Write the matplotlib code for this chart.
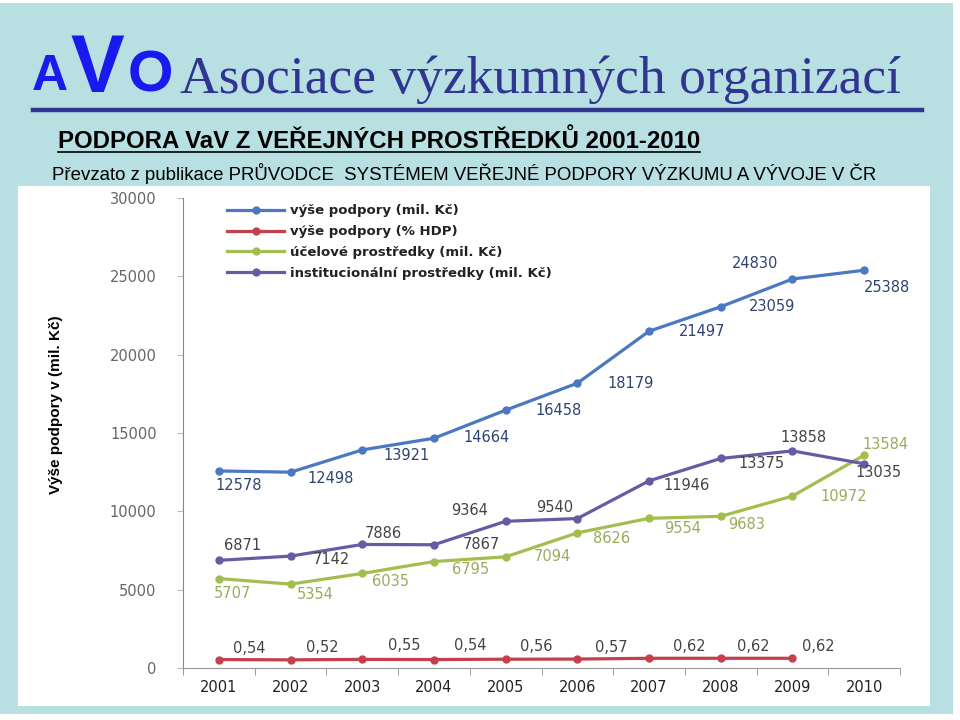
import matplotlib.pyplot as plt
from matplotlib.patches import Rectangle
from matplotlib.lines import Line2D

years = [2001, 2002, 2003, 2004, 2005, 2006, 2007, 2008, 2009, 2010]
celkem = [12578, 12498, 13921, 14664, 16458, 18179, 21497, 23059, 24830, 25388]
hdp = [0.54, 0.52, 0.55, 0.54, 0.56, 0.57, 0.62, 0.62, 0.62]
ucelove = [5707, 5354, 6035, 6795, 7094, 8626, 9554, 9683, 10972, 13584]
instituc = [6871, 7142, 7886, 7867, 9364, 9540, 11946, 13375, 13858, 13035]
y_ticks = [0, 5000, 10000, 15000, 20000, 25000, 30000]

names = ['výše podpory (mil. Kč)', 'výše podpory (% HDP)',
         'účelové prostředky (mil. Kč)', 'institucionální prostředky (mil. Kč)']
colors = ['#4a78c2', '#c4404c', '#a3bd4f', '#6a5aa6']
label_colors = ['#2f4470', '#444444', '#9aab5a', '#444444']

# label offsets in pixels (dx, dy) relative to the point
off_celkem = [(20, -15), (40, -6), (44, -6), (53, 1), (53, 0), (53, 0), (53, 0), (51, 0), (-37, 15), (23, -17)]
off_inst = [(24, 15), (41, -3), (21, 11), (47, 0), (-36, 11), (-23, 11), (38, -5), (41, -5), (11, 13), (14, -9)]
off_ucel = [(14, -15), (25, -10), (28, -8), (37, -8), (47, 0), (34, -6), (34, -10), (26, -8), (51, 0), (21, 11)]
off_hdp = [(30, 11), (32, 12), (42, 14), (36, 14), (31, 13), (34, 12), (40, 12), (33, 12), (26, 12)]

fig = plt.figure(figsize=(9.6, 7.2), dpi=100)
fig.patch.set_facecolor('white')


def px(x, y):
    return x / 960, 1 - y / 720


# slide background
fig.patches.append(Rectangle(px(0, 714), 953 / 960, 711 / 720, transform=fig.transFigure,
                             facecolor='#b8dfe2', edgecolor='none', zorder=-2))
# white chart panel
fig.patches.append(Rectangle(px(18, 706), 912 / 960, 520 / 720, transform=fig.transFigure,
                             facecolor='white', edgecolor='none', zorder=-1))

# logo
logo = '#1a1aee'
fig.text(*px(50, 90), 'A', fontsize=36, fontweight='bold', family='Liberation Sans',
         color=logo, ha='center', va='baseline')
fig.text(*px(97, 92), 'V', fontsize=58, fontweight='bold', family='Liberation Sans',
         color=logo, ha='center', va='baseline')
fig.text(*px(150, 92), 'O', fontsize=42, fontweight='bold', family='Liberation Sans',
         color=logo, ha='center', va='baseline')

fig.text(*px(180, 93), 'Asociace výzkumných organizací', fontsize=38.5,
         family='Liberation Serif', color='#2f3590', ha='left', va='baseline')
fig.lines.append(Line2D([33 / 960, 922 / 960], [1 - 110 / 720] * 2, transform=fig.transFigure,
                        color='#2f3590', lw=3.2))

fig.text(*px(58, 148), 'PODPORA VaV Z VEŘEJNÝCH PROSTŘEDKŮ 2001-2010', fontsize=17.3,
         fontweight='bold', family='Liberation Sans', color='black', ha='left', va='baseline')
fig.lines.append(Line2D([58 / 960, 700 / 960], [1 - 152 / 720] * 2, transform=fig.transFigure,
                        color='black', lw=1.2))
fig.text(*px(52, 180), 'Převzato z publikace PRŮVODCE  SYSTÉMEM VEŘEJNÉ PODPORY VÝZKUMU A VÝVOJE V ČR',
         fontsize=13.45, family='Liberation Sans', color='black', ha='left', va='baseline')

fig.text(*px(56, 405), 'Výše podpory v (mil. Kč)', rotation=90, fontsize=11, fontweight='bold',
         family='Liberation Sans', color='black', ha='center', va='center')

ax = fig.add_axes([183 / 960, 52 / 720, 717 / 960, 470 / 720])
ax.set_facecolor('none')

hdp_scaled = [v * 1000 for v in hdp]
series = [(years, celkem), (years[:len(hdp)], hdp_scaled), (years, ucelove), (years, instituc)]
for (xs, ys), c, n in zip(series, colors, names):
    ax.plot(xs, ys, color=c, lw=2.3, marker='o', markersize=5, label=n, zorder=3)


def labels(xs, ys, texts, offs, col):
    for x, y, t, (dx, dy) in zip(xs, ys, texts, offs):
        ax.annotate(t, (x, y), xytext=(dx * 0.72, dy * 0.72), textcoords='offset points',
                    ha='center', va='center', fontsize=10.5, color=col, family='DejaVu Sans')


labels(years, celkem, [str(v) for v in celkem], off_celkem, label_colors[0])
labels(years, instituc, [str(v) for v in instituc], off_inst, label_colors[3])
labels(years, ucelove, [str(v) for v in ucelove], off_ucel, label_colors[2])
labels(years, hdp_scaled, [f'{v:.2f}'.replace('.', ',') for v in hdp], off_hdp, label_colors[1])

ax.set_xlim(2000.5, 2010.5)
ax.set_ylim(0, 30000)
ax.set_yticks(y_ticks)
ax.set_yticklabels([str(v) for v in y_ticks])
ax.set_xticks(years)
ax.set_xticklabels([str(y) for y in years])
ax.set_xticks([y + 0.5 for y in [2000] + years], minor=True)
ax.tick_params(axis='x', which='major', length=0, pad=9, labelsize=10.5, labelcolor='#222222')
ax.tick_params(axis='x', which='minor', length=5, color='#888888', direction='out')
ax.tick_params(axis='y', length=4, color='#bbbbbb', pad=15, labelsize=10.5, labelcolor='#666666')
for lab in ax.get_xticklabels() + ax.get_yticklabels():
    lab.set_family('DejaVu Sans')
for s in ['top', 'right']:
    ax.spines[s].set_visible(False)
ax.spines['left'].set_color('#888888')
ax.spines['bottom'].set_color('#999999')

leg = ax.legend(loc='upper left', bbox_to_anchor=(0.045, 1.012), frameon=False,
                handlelength=4.3, handletextpad=0.5, labelspacing=0.6,
                prop={'family': 'DejaVu Sans', 'weight': 'bold', 'size': 9.5})
for t in leg.get_texts():
    t.set_color('#222222')

fig.savefig('out.png', dpi=100)
